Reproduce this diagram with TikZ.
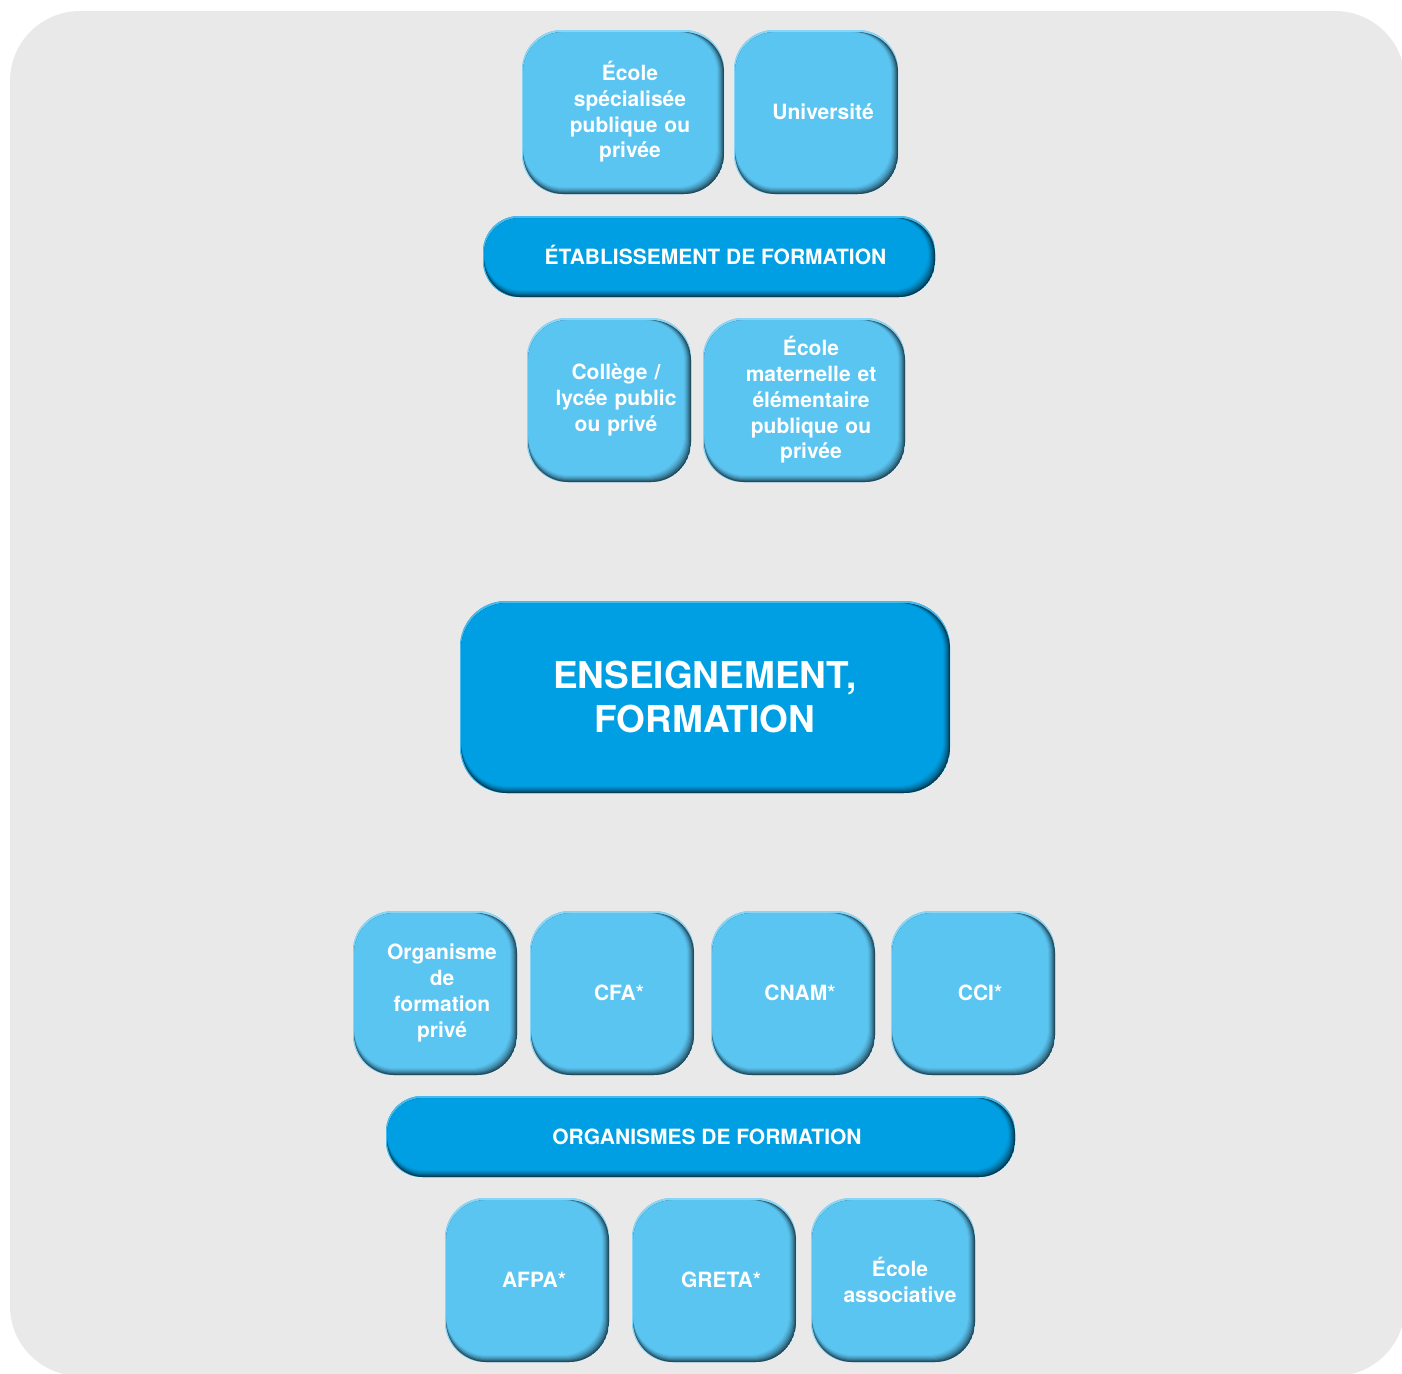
\documentclass[tikz,border=0pt]{standalone}
\usepackage{fontspec}
\setmainfont{TeX Gyre Heros}
\usetikzlibrary{positioning}

\definecolor{bggrey}{HTML}{E9E9E9}
\definecolor{lightblue}{HTML}{5BC5F2}
\definecolor{deepblue}{HTML}{009FE3}

\tikzset{
    boxrad/.store in=\boxrad,
    bevel/.style={fill=#1, path picture={
        \fill[#1!72!white] (path picture bounding box.north west) rectangle
            (path picture bounding box.south east);
        \foreach \d/\p in {0/38,1/50,2/62,3/72,4/81,5/89,6/95,7/100}
            \fill[#1!\p!black, rounded corners=\boxrad]
                ([xshift=1.2pt,yshift=-2.2pt]path picture bounding box.north west) rectangle
                ([xshift=-\d pt,yshift=\d pt]path picture bounding box.south east);
    }},
    box/.style={bevel=lightblue, boxrad=40pt, rounded corners=\boxrad,
        minimum width=164pt, minimum height=164pt, inner sep=0pt,
        text width=150pt, align=center, text=white,
        font=\bfseries\fontsize{21}{25.7}\selectfont,
        execute at begin node={\leftskip=14pt plus 1fil\rightskip=0pt plus 1fil}},
    widebox/.style={box, minimum width=202pt, text width=188pt},
    bar/.style={bevel=deepblue, boxrad=36pt, rounded corners=\boxrad,
        minimum height=81pt, inner sep=0pt, text height=15pt, text depth=0pt,
        text=white, font=\bfseries\fontsize{21}{25.7}\selectfont,
        execute at begin node={\hspace*{13pt}}},
    hub/.style={bevel=deepblue, boxrad=46pt, rounded corners=\boxrad,
        minimum width=490pt, minimum height=192pt, inner sep=0pt,
        align=center, text=white, font=\bfseries\fontsize{37}{44}\selectfont}
}

\begin{document}
\begin{tikzpicture}[x=1pt, y=-1pt]
    \useasboundingbox (0,0) rectangle (1402,1373);
    \fill[bggrey, rounded corners=70pt] (10,11) rectangle (1405,1376);

    % etablissements
    \node [widebox] (specialisee) at (623,112) {École\\spécialisée\\publique ou\\privée};
    \node [box] (universite) at (816,112) {Université};
    \node [bar, minimum width=452pt] (etablissement) at (709,256.5) {ÉTABLISSEMENT DE FORMATION};
    \node [box] (college) at (609,400) {Collège /\\lycée public\\ou privé};
    \node [widebox] (maternelle) at (804,400) {École\\maternelle et\\élémentaire\\publique ou\\privée};

    \node [hub] (enseignement) at (705,697) {ENSEIGNEMENT,\\FORMATION};

    % organismes
    \node [box] (prive) at (435,993) {Organisme\\de\\formation\\privé};
    \node [box] (cfa) at (612,993) {CFA*};
    \node [box] (cnam) at (793,993) {CNAM*};
    \node [box] (cci) at (973,993) {CCI*};
    \node [bar, minimum width=629pt] (organismes) at (700.5,1136.5) {ORGANISMES DE FORMATION};
    \node [box] (afpa) at (527,1280) {AFPA*};
    \node [box] (greta) at (714,1280) {GRETA*};
    \node [box] (associative) at (893,1280) {École\\associative};
\end{tikzpicture}
\end{document}
